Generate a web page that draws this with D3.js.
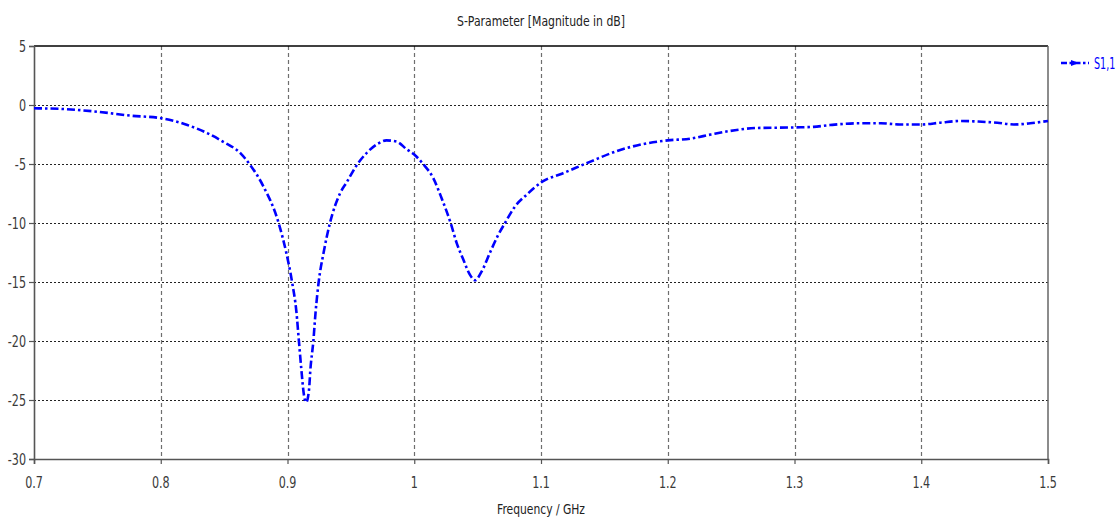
<!DOCTYPE html>
<html>
<head>
<meta charset="utf-8">
<script src="https://cdn.jsdelivr.net/npm/d3@7"></script>
<style>
  html, body { margin: 0; padding: 0; background: #fff; }
  svg { display: block; }
  text { font-family: "DejaVu Sans", "Liberation Sans", sans-serif; }
</style>
</head>
<body>
<svg id="chart" width="1117" height="519"></svg>
<script>
// S11 magnitude (dB) versus frequency (GHz)
const freqGHz = [
  0.700, 0.723, 0.750, 0.776, 0.801, 0.821, 0.837, 0.849, 0.863, 0.870,
  0.881, 0.893, 0.899, 0.9036, 0.907, 0.909, 0.911, 0.913, 0.9147, 0.917,
  0.918, 0.9204, 0.9222, 0.9246, 0.9285, 0.9335, 0.9414, 0.947, 0.954, 0.963,
  0.971, 0.978, 0.986, 0.994, 1.000, 1.007, 1.015, 1.0216, 1.0287, 1.0335,
  1.0387, 1.044, 1.048, 1.0532, 1.0598, 1.0663, 1.0716, 1.0795, 1.0887, 1.101,
  1.117, 1.139, 1.160, 1.181, 1.200, 1.218, 1.234, 1.249, 1.270, 1.300,
  1.315, 1.328, 1.350, 1.368, 1.383, 1.400, 1.415, 1.431, 1.444, 1.460,
  1.473, 1.486, 1.500
];
const s11dB = [
  -0.28, -0.34, -0.57, -0.90, -1.13, -1.70, -2.40, -3.10, -4.10, -5.00,
  -6.90, -10.0, -12.5, -15.0, -17.5, -20.0, -22.5, -24.6, -25.2, -24.1,
  -22.5, -20.0, -17.5, -15.0, -12.5, -10.0, -7.5, -6.5, -5.2, -4.0,
  -3.3, -3.0, -3.1, -3.75, -4.2, -5.0, -6.2, -7.9, -10.0, -11.7,
  -13.1, -14.4, -14.85, -14.1, -12.5, -11.0, -10.0, -8.6, -7.6, -6.5,
  -5.8, -4.8, -3.9, -3.3, -3.0, -2.85, -2.5, -2.2, -1.95, -1.9,
  -1.85, -1.7, -1.55, -1.55, -1.65, -1.65, -1.5, -1.35, -1.4, -1.5,
  -1.65, -1.55, -1.35
];
const xTicks = [0.7, 0.8, 0.9, 1.0, 1.1, 1.2, 1.3, 1.4, 1.5];
const xTickLabels = ["0.7", "0.8", "0.9", "1", "1.1", "1.2", "1.3", "1.4", "1.5"];
const yTicks = [5, 0, -5, -10, -15, -20, -25, -30];
const yTickLabels = ["5", "0", "-5", "-10", "-15", "-20", "-25", "-30"];
const seriesName = "S1,1";
const titleText = "S-Parameter [Magnitude in dB]";
const xLabelText = "Frequency / GHz";

const svg = d3.select("#chart");
const plotL = 34, plotR = 1048, plotT = 46, plotB = 459;

const x = d3.scaleLinear().domain([0.7, 1.5]).range([plotL, plotR]);
const y = d3.scaleLinear().domain([-30, 5]).range([plotB, plotT]);

const tickColor = "#3a3a3a";
const narrow = 0.72;   // horizontal squeeze for the condensed tick lettering

// Grid: vertical dashed, horizontal dotted
const grid = svg.append("g");
grid.selectAll("line.vg")
  .data(xTicks.filter(t => t > 0.7 && t < 1.5))
  .join("line")
  .attr("x1", d => Math.round(x(d)) + 0.5).attr("x2", d => Math.round(x(d)) + 0.5)
  .attr("y1", plotT).attr("y2", plotB)
  .attr("stroke", "#6e6e6e").attr("stroke-width", 1.2)
  .attr("stroke-dasharray", "4,3");
grid.selectAll("line.hg")
  .data(yTicks.filter(t => t < 5 && t > -30))
  .join("line")
  .attr("x1", plotL).attr("x2", plotR)
  .attr("y1", d => Math.round(y(d)) + 0.5).attr("y2", d => Math.round(y(d)) + 0.5)
  .attr("stroke", "#222").attr("stroke-width", 1)
  .attr("stroke-dasharray", "2,2");

// Frame: top and right borders
svg.append("line")
  .attr("x1", plotL).attr("x2", plotR)
  .attr("y1", y(5)).attr("y2", y(5))
  .attr("stroke", "#000").attr("stroke-width", 1.6);
svg.append("line")
  .attr("x1", x(1.5)).attr("x2", x(1.5))
  .attr("y1", plotT).attr("y2", plotB)
  .attr("stroke", "#666").attr("stroke-width", 1.5);

// Axes (tick marks and domain lines from d3; lettering drawn separately)
const gx = svg.append("g").attr("transform", `translate(0,${plotB})`)
  .call(d3.axisBottom(x).tickValues(xTicks).tickSize(5).tickFormat(""));
gx.select(".domain").attr("stroke", "#555").attr("stroke-width", 1.6);
gx.selectAll(".tick line").attr("stroke", "#555").attr("stroke-width", 1.2);

const gy = svg.append("g").attr("transform", `translate(${plotL},0)`)
  .call(d3.axisLeft(y).tickValues(yTicks).tickSize(5).tickFormat(""));
gy.select(".domain").attr("stroke", "#555").attr("stroke-width", 1.6);
gy.selectAll(".tick line").attr("stroke", "#555").attr("stroke-width", 1.2);

svg.append("g").selectAll("text")
  .data(xTicks)
  .join("text")
  .attr("transform", d => `translate(${x(d)},488) scale(${narrow},1)`)
  .attr("text-anchor", "middle")
  .attr("font-size", 15.5).attr("fill", tickColor)
  .text((d, i) => xTickLabels[i]);

svg.append("g").selectAll("text")
  .data(yTicks)
  .join("text")
  .attr("transform", d => `translate(${plotL - 8},${y(d) + 5.5}) scale(${narrow},1)`)
  .attr("text-anchor", "end")
  .attr("font-size", 15.5).attr("fill", tickColor)
  .text((d, i) => yTickLabels[i]);

// Titles
svg.append("text")
  .attr("x", (plotL + plotR) / 2).attr("y", 26)
  .attr("text-anchor", "middle").attr("font-size", 14).attr("fill", "#222")
  .attr("textLength", 168).attr("lengthAdjust", "spacingAndGlyphs")
  .text(titleText);
svg.append("text")
  .attr("x", (plotL + plotR) / 2).attr("y", 514)
  .attr("text-anchor", "middle").attr("font-size", 14).attr("fill", "#222")
  .attr("textLength", 88).attr("lengthAdjust", "spacingAndGlyphs")
  .text(xLabelText);

// Curve
const pts = freqGHz.map((f, i) => [f, s11dB[i]]);
const line = d3.line().x(d => x(d[0])).y(d => y(d[1])).curve(d3.curveMonotoneX);
svg.append("path")
  .datum(pts)
  .attr("d", line)
  .attr("fill", "none")
  .attr("stroke", "#0000ff")
  .attr("stroke-width", 2.6)
  .attr("stroke-dasharray", "8,3,2.5,3");

// Legend
const lg = svg.append("g").attr("transform", "translate(1061,63)");
lg.append("line").attr("x1", 0).attr("x2", 28).attr("y1", 0).attr("y2", 0)
  .attr("stroke", "#0000ff").attr("stroke-width", 2.6).attr("stroke-dasharray", "6,2.5,2.5,2.5");
lg.append("path").attr("d", "M10,-3 L18,0 L10,3 Z").attr("fill", "#0000ff");
lg.append("text")
  .attr("transform", "translate(33,5.5) scale(0.64,1)")
  .attr("font-size", 15).attr("fill", "#0000ff")
  .text(seriesName);
</script>
</body>
</html>
